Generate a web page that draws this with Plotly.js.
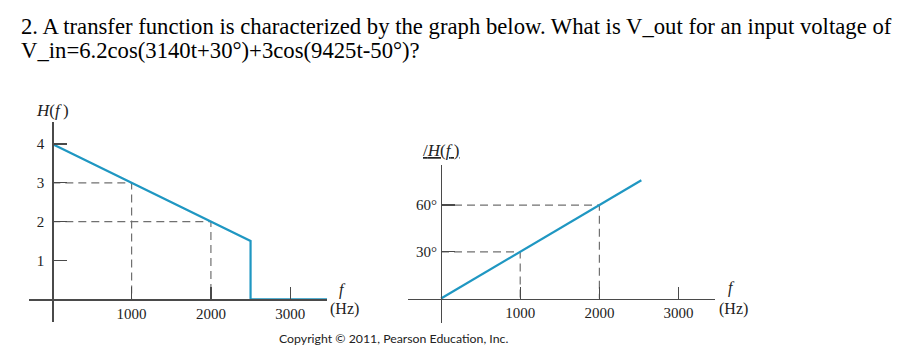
<!DOCTYPE html>
<html>
<head>
<meta charset="utf-8">
<script src="https://cdn.plot.ly/plotly-3.0.1.min.js"></script>
<style>html,body{margin:0;padding:0;background:#fff;}#chart{width:921px;height:357px;}</style>
</head>
<body>
<div id="chart"></div>
<script>
// ---- data ----
var magFreq = [0, 2500, 2500, 3470];          // Hz
var magValue = [4, 1.5, 0, 0];               // |H(f)|
var magGuideFreq = [1000, 2000];
var magGuideValue = [3, 2];
var magTicks = [1, 2, 3, 4];
var magTickText = ['1', '2', '3', '4'];

var phaseFreq = [0, 2530];                   // Hz
var phaseValue = [0, 75.9];                  // degrees
var phaseGuideFreq = [1000, 2000];
var phaseGuideValue = [30, 60];
var phaseTicks = [30, 60];
var phaseTickText = ['30°', '60°'];

var freqTicks = [1000, 2000, 3000];
var freqTickText = ['1000', '2000', '3000'];

var titleLines = [
  '2. A transfer function is characterized by the graph below. What is V_out for an input voltage of',
  'V_in=6.2cos(3140t+30°)+3cos(9425t-50°)?'
];
var copyright = 'Copyright © 2011, Pearson Education, Inc.';

// ---- helpers ----
var W = 921, H = 357;
function px(x) { return x / W; }
function py(y) { return 1 - y / H; }

var BLUE = '#1f97c2';
var AX = '#4a4a4a';
var DASH = '#707070';
var serif = 'Liberation Serif, Times New Roman, serif';

var traces = [];
function guides(fx, vy, xa, ya) {
  for (var i = 0; i < fx.length; i++) {
    traces.push({
      x: [0, fx[i], fx[i]], y: [vy[i], vy[i], 0], xaxis: xa, yaxis: ya,
      mode: 'lines', line: {color: DASH, width: 1.2, dash: '8px,5px'},
      hoverinfo: 'skip', showlegend: false
    });
  }
}
guides(magGuideFreq, magGuideValue, 'x', 'y');
guides(phaseGuideFreq, phaseGuideValue, 'x2', 'y2');
traces.push({x: magFreq, y: magValue, xaxis: 'x', yaxis: 'y', mode: 'lines',
  line: {color: BLUE, width: 2.2}, showlegend: false});
traces.push({x: phaseFreq, y: phaseValue, xaxis: 'x2', yaxis: 'y2', mode: 'lines',
  line: {color: BLUE, width: 2.2}, showlegend: false});

function xAxis(domain, range, pos) {
  return {domain: domain, range: range, anchor: 'free', position: pos,
    showline: true, linecolor: AX, linewidth: 1.3, showgrid: false, zeroline: false,
    tickmode: 'array', tickvals: freqTicks, ticktext: freqTickText,
    ticks: 'inside', ticklen: 12, tickcolor: AX, tickwidth: 1.2,
    tickfont: {family: serif, size: 15, color: '#222'}, fixedrange: true};
}
function yAxis(domain, range, pos, tv, tt, standoff) {
  return {domain: domain, range: range, anchor: 'free', position: pos,
    showline: true, linecolor: AX, linewidth: 1.3, showgrid: false, zeroline: false,
    tickmode: 'array', tickvals: tv, ticktext: tt,
    ticks: 'inside', ticklen: 13, tickcolor: AX, tickwidth: 1.2, ticklabelstandoff: standoff,
    tickfont: {family: serif, size: 15, color: '#222'}, fixedrange: true};
}

var layout = {
  width: W, height: H,
  margin: {l: 0, r: 0, t: 0, b: 0},
  paper_bgcolor: '#fff', plot_bgcolor: 'rgba(0,0,0,0)',
  showlegend: false,
  xaxis: xAxis([px(29), px(327)], [-294, 3464], py(299.3)),
  yaxis: yAxis([py(322), py(121.7)], [-0.585, 4.574], px(52.3), magTicks, magTickText, 5),
  xaxis2: xAxis([px(408), px(715)], [-417, 3460], py(298.5)),
  yaxis2: yAxis([py(323), py(165)], [-15.7, 85.7], px(441), phaseTicks, phaseTickText, 1),
  annotations: [
    {text: titleLines[0], xref: 'paper', yref: 'paper', x: px(19), y: py(27), xanchor: 'left', yanchor: 'middle',
      showarrow: false, font: {family: serif, size: 22.7, color: '#000'}},
    {text: titleLines[1], xref: 'paper', yref: 'paper', x: px(19), y: py(51), xanchor: 'left', yanchor: 'middle',
      showarrow: false, font: {family: serif, size: 22.7, color: '#000'}},
    {text: '<i>H</i>(<i>f</i>\u2009)', xref: 'paper', yref: 'paper', x: px(52), y: py(110), xanchor: 'center', yanchor: 'middle',
      showarrow: false, font: {family: serif, size: 17, color: '#222'}},
    {text: '<u>/<i>H</i>(<i>f</i>\u2009)</u>', xref: 'paper', yref: 'paper', x: px(441), y: py(150), xanchor: 'center', yanchor: 'middle',
      showarrow: false, font: {family: serif, size: 17, color: '#222'}},
    {text: '<i>f</i>', xref: 'paper', yref: 'paper', x: px(342), y: py(290), xanchor: 'center', yanchor: 'middle',
      showarrow: false, font: {family: serif, size: 16, color: '#222'}},
    {text: '(Hz)', xref: 'paper', yref: 'paper', x: px(344), y: py(309), xanchor: 'center', yanchor: 'middle',
      showarrow: false, font: {family: serif, size: 16, color: '#222'}},
    {text: '<i>f</i>', xref: 'paper', yref: 'paper', x: px(731), y: py(288), xanchor: 'center', yanchor: 'middle',
      showarrow: false, font: {family: serif, size: 16, color: '#222'}},
    {text: '(Hz)', xref: 'paper', yref: 'paper', x: px(733), y: py(309), xanchor: 'center', yanchor: 'middle',
      showarrow: false, font: {family: serif, size: 16, color: '#222'}},
    {text: copyright, xref: 'paper', yref: 'paper', x: px(393), y: py(338), xanchor: 'center', yanchor: 'middle',
      showarrow: false, font: {family: 'Lato, Open Sans, sans-serif', size: 12.3, color: '#222'}}
  ]
};

Plotly.newPlot('chart', traces, layout, {displayModeBar: false, staticPlot: true});
</script>
</body>
</html>
